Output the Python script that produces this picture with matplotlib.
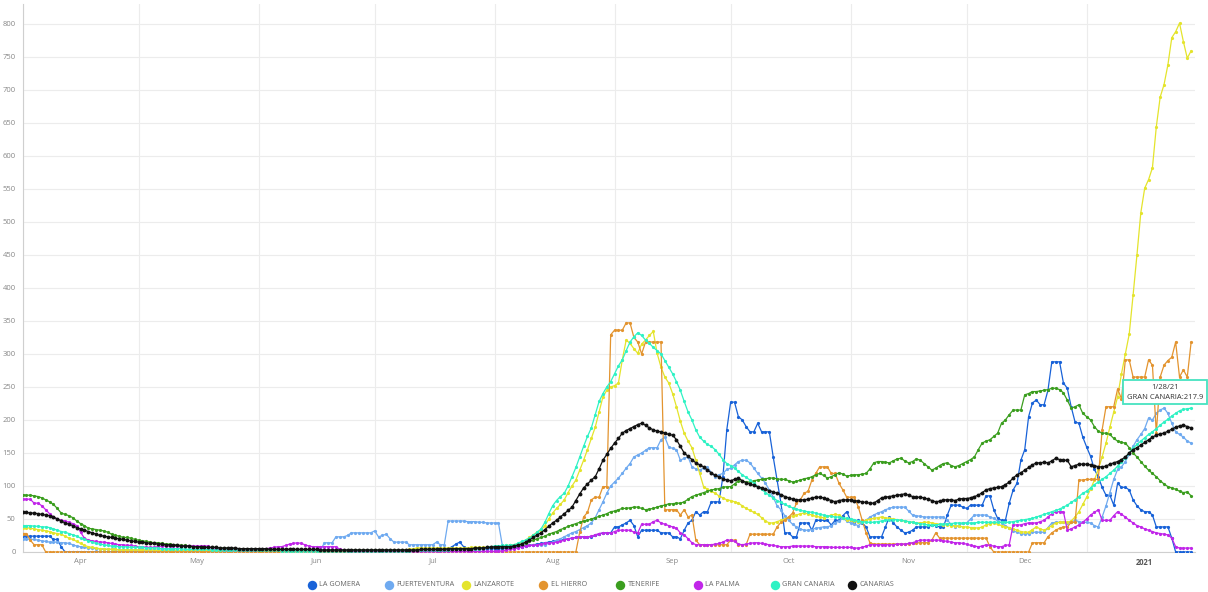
import matplotlib
matplotlib.use("Agg")
import matplotlib.pyplot as plt
import matplotlib.dates as mdates
from matplotlib.lines import Line2D
from matplotlib.ticker import FuncFormatter
import pandas as pd

plt.rcParams['font.family'] = ['Open Sans', 'DejaVu Sans']

dates = pd.date_range("2020-04-01", "2021-01-28", freq="D")

names = ["LA GOMERA", "FUERTEVENTURA", "LANZAROTE", "EL HIERRO",
         "TENERIFE", "LA PALMA", "GRAN CANARIA", "CANARIAS"]
colors = ["#1862d8", "#6faaf0", "#e4e42c", "#e3942f",
          "#3b9e1f", "#c126e9", "#2ef2c4", "#111111"]

la_gomera = [
    24,24,24,24,24,24,24,24,19,19,8,0,0,0,0,0,0,0,0,0,0,0,0,0,0,0,0,0,0,0,
    0,0,0,0,0,0,0,0,0,0,0,0,0,0,0,0,0,0,0,0,0,0,0,0,0,0,0,0,0,0,0,
    0,0,0,0,0,0,0,0,0,0,0,0,0,0,0,0,0,0,0,0,0,0,0,0,0,0,0,0,0,0,
    0,0,0,0,0,0,0,0,0,0,0,0,0,0,0,5,5,5,5,5,8,12,15,8,5,5,5,5,5,5,5,
    5,5,5,6,6,7,8,8,9,10,11,12,13,14,15,16,17,18,19,20,21,22,23,23,23,23,25,27,29,29,29,
    38,38,41,44,48,40,23,33,33,33,33,33,29,29,29,23,23,20,33,44,48,61,56,61,61,76,76,76,114,185,
    227,227,205,200,190,182,182,195,182,182,182,144,109,74,29,29,23,23,44,44,44,33,48,48,48,48,41,48,48,55,61,
    48,44,48,44,38,23,23,23,23,38,53,44,38,33,29,30,33,38,38,38,38,41,40,38,38,56,71,71,71,68,
    66,71,71,71,71,85,85,64,51,48,48,74,94,104,139,155,205,226,230,223,223,245,288,288,288,256,248,220,197,195,174,
    159,145,125,114,98,86,86,71,104,98,98,94,79,70,64,61,61,56,38,38,38,38,21,0,0,0,0,0,
]

fuerteventura = [
    20,20,19,19,18,17,16,15,15,15,14,14,13,11,9,8,7,6,6,5,5,4,4,4,4,3,3,3,3,3,
    3,3,3,3,3,3,3,3,3,3,2,2,2,2,2,2,2,2,2,2,2,2,2,2,2,2,2,2,2,2,2,
    2,2,2,2,2,2,2,2,2,2,2,2,2,2,2,2,2,14,14,14,23,23,23,25,29,29,29,29,29,29,
    32,23,25,27,20,15,15,15,15,11,11,11,11,11,11,11,15,11,11,47,47,47,47,47,46,46,46,45,45,44,44,
    44,44,10,9,9,9,9,9,10,10,10,10,11,11,13,15,18,20,23,26,29,31,34,37,40,44,52,64,76,89,100,
    106,112,119,127,134,144,147,150,154,158,158,158,170,174,159,157,155,139,142,144,129,126,124,127,129,120,114,117,119,125,
    127,132,137,139,139,135,127,119,112,104,94,83,70,64,55,48,42,38,35,33,33,34,36,37,38,38,40,44,47,51,47,
    44,42,40,45,48,53,56,59,61,64,66,68,68,68,68,62,56,55,54,53,53,53,53,53,53,48,42,38,40,44,
    44,50,56,56,56,56,53,51,47,44,40,36,32,30,28,27,28,30,30,30,30,37,44,45,45,45,44,45,48,46,45,
    45,44,40,38,53,70,90,110,125,129,137,148,160,170,178,187,203,200,210,215,218,210,195,182,178,174,168,165,
]

lanzarote = [
    37,37,36,35,34,33,32,31,29,28,27,24,21,19,16,13,10,8,7,6,5,5,4,4,4,3,3,3,3,3,
    3,3,3,3,3,2,2,2,2,2,2,2,2,2,2,2,2,2,2,2,2,2,2,2,2,2,2,2,2,2,2,
    2,2,2,2,2,2,2,2,2,2,2,2,2,2,2,2,2,2,2,2,2,2,2,2,2,2,2,2,2,2,
    2,2,2,2,2,2,2,3,3,4,5,6,6,6,6,6,6,6,6,6,6,6,6,6,6,7,7,7,7,7,8,
    8,8,9,10,10,11,12,15,18,22,26,30,33,40,50,59,66,72,79,90,100,109,124,139,155,172,189,212,235,245,250,
    252,256,291,321,316,308,301,315,321,328,334,301,280,265,256,240,220,198,180,168,158,139,119,99,95,92,89,85,82,79,
    78,76,74,70,66,63,60,57,52,47,44,44,46,48,50,53,55,56,58,59,58,56,54,53,52,54,56,57,56,52,49,
    48,47,46,46,48,50,51,52,53,52,51,50,49,48,47,46,45,44,44,45,45,44,43,42,41,41,40,40,39,38,
    38,37,37,36,38,41,43,44,42,40,38,37,35,33,31,30,30,34,38,35,33,36,40,44,45,45,45,47,53,61,72,
    83,95,109,125,144,165,189,212,235,270,300,330,389,450,514,551,564,582,644,689,708,738,779,788,801,773,748,759,
]

el_hierro = [
    28,28,18,11,11,11,0,0,0,0,0,0,0,0,0,0,0,0,0,0,0,0,0,0,0,0,0,0,0,0,
    0,0,0,0,0,0,0,0,0,0,0,0,0,0,0,0,0,0,0,0,0,0,0,0,0,0,0,0,0,0,0,
    0,0,0,0,0,0,0,0,0,0,0,0,0,0,0,0,0,0,0,0,0,0,0,0,0,0,0,0,0,0,
    0,0,0,0,0,0,0,0,0,0,0,0,0,0,0,0,0,0,0,0,0,0,0,0,0,0,0,0,0,0,0,
    0,0,0,0,0,0,0,0,0,0,0,0,0,0,0,0,0,0,0,0,0,0,30,53,60,79,83,83,99,99,329,
    336,336,336,347,347,325,318,300,318,318,318,318,318,64,64,64,64,56,64,53,56,18,11,11,11,11,11,11,11,11,
    18,18,11,11,11,27,27,27,27,27,27,27,38,45,48,53,59,74,79,89,92,109,119,129,129,129,119,119,104,94,83,
    83,83,68,48,29,14,12,12,12,12,12,12,12,12,12,12,14,14,14,14,14,18,29,21,21,21,21,21,21,21,
    21,21,21,21,21,21,8,0,0,0,0,0,0,0,0,0,0,14,14,14,14,23,29,33,36,38,38,45,45,109,109,
    110,110,110,110,185,220,220,220,247,232,291,291,265,265,265,265,291,283,180,265,283,290,295,318,265,276,265,318,
]

tenerife = [
    87,86,86,85,84,82,79,76,72,66,59,57,55,52,47,43,40,36,35,34,33,32,30,27,25,24,22,22,21,19,
    18,17,16,15,14,14,13,12,12,11,11,10,10,9,9,8,8,8,7,7,7,6,6,6,6,5,5,5,5,5,5,
    5,5,4,4,4,4,4,4,4,4,3,3,3,3,3,3,3,3,3,3,3,3,3,3,3,3,3,3,3,3,
    3,3,3,3,3,3,3,3,3,3,3,3,4,4,4,4,4,4,4,4,4,5,5,5,5,5,6,6,6,7,8,
    8,8,9,9,10,10,11,12,14,16,18,20,22,24,27,29,31,34,36,39,41,43,45,47,48,50,52,54,56,58,61,
    62,64,66,66,67,68,68,66,64,65,66,68,70,71,73,73,74,74,76,80,84,86,88,90,92,94,95,96,98,99,
    99,103,108,107,106,106,108,109,110,111,112,112,111,110,110,108,106,107,109,111,112,114,117,119,116,112,114,117,120,118,115,
    116,117,117,118,119,126,135,137,137,136,135,138,141,142,138,135,137,141,139,134,129,124,127,131,134,135,131,129,131,134,
    137,140,144,155,165,168,170,175,180,195,200,208,215,215,215,238,240,243,243,244,245,246,248,248,246,241,230,218,220,223,210,
    205,200,190,183,180,180,178,172,168,166,165,158,150,144,137,130,124,119,114,108,103,99,97,95,92,90,91,85,
]

la_palma = [
    80,80,80,74,74,70,64,58,53,50,48,47,45,43,40,30,21,18,17,16,15,15,14,13,12,11,11,10,10,9,
    8,8,7,7,7,8,9,9,9,9,9,9,9,9,9,9,9,9,9,5,4,4,3,3,3,3,3,3,3,3,3,
    4,5,5,6,7,8,8,10,12,13,14,13,11,9,8,8,8,8,8,8,8,4,3,2,1,1,1,1,1,1,
    1,1,1,1,1,1,1,1,1,1,1,1,1,1,1,1,1,1,1,1,1,1,1,1,1,1,1,1,1,1,1,
    1,1,2,3,4,5,6,8,9,10,10,11,12,13,14,14,15,16,18,20,21,22,23,23,23,24,26,28,29,29,29,
    31,33,33,33,33,30,29,42,42,42,46,48,44,42,40,38,36,29,26,20,14,11,11,11,11,11,12,13,15,18,
    18,16,12,11,12,13,14,14,13,12,11,10,9,8,8,8,9,9,9,9,9,9,8,8,8,8,7,7,7,7,7,
    7,6,6,7,9,11,11,11,11,11,11,11,12,12,12,13,14,16,18,18,18,18,18,18,17,16,15,14,14,13,
    12,10,9,8,9,11,10,9,8,8,10,11,41,41,41,43,44,44,44,46,48,53,58,61,61,61,33,35,38,41,45,
    50,56,60,64,48,48,48,55,61,57,53,48,44,40,38,35,33,31,29,28,27,26,21,8,6,6,6,6,
]

gran_canaria = [
    40,40,40,39,39,38,38,37,35,33,31,30,28,26,24,21,19,17,15,13,12,11,10,9,9,8,8,8,7,7,
    7,7,6,6,6,6,5,5,5,5,5,5,4,4,4,4,4,4,4,3,3,3,3,3,3,3,3,3,3,3,3,
    3,3,3,3,3,3,2,2,2,2,2,2,2,2,2,2,2,2,2,2,2,2,2,2,2,2,2,2,2,2,
    2,2,2,2,2,2,2,2,2,2,3,3,3,3,3,3,3,3,3,3,4,4,4,4,4,4,5,5,6,7,8,
    9,9,10,10,10,11,13,16,18,21,25,30,35,45,58,70,78,84,89,100,114,128,144,160,175,188,208,228,240,250,258,
    270,282,291,305,318,326,332,328,321,316,310,305,300,290,280,270,258,245,228,212,200,185,174,168,163,160,155,148,140,134,
    131,127,122,117,113,109,104,99,95,90,86,82,78,75,72,69,67,65,63,62,61,60,59,57,56,55,54,53,53,52,51,
    50,49,47,46,45,45,45,46,47,48,48,49,49,48,47,46,45,44,43,42,41,41,41,42,42,43,43,44,44,44,
    44,44,44,45,45,45,45,45,45,45,45,45,46,47,48,49,50,51,53,55,57,59,61,63,65,68,71,75,79,84,89,
    92,97,102,106,110,114,119,124,130,136,142,150,157,163,168,173,178,182,187,192,197,201,206,210,214,216,217,217.9,
]

canarias = [
    60,60,59,59,58,57,56,55,53,50,47,44,42,40,37,35,33,31,29,27,25,24,23,22,21,20,19,18,17,16,
    15,15,14,13,13,12,12,11,11,10,10,9,9,9,8,8,8,7,7,7,7,6,6,6,6,6,5,5,5,5,5,
    5,5,5,4,4,4,4,4,4,4,4,4,4,4,4,4,3,3,3,3,3,3,3,3,3,3,3,3,3,3,
    3,3,3,3,3,3,3,3,3,3,3,3,4,4,4,4,4,4,4,5,5,5,5,5,5,5,6,6,6,7,7,
    8,8,8,8,8,9,10,12,15,18,22,26,29,34,39,44,48,53,58,63,68,78,88,97,103,109,114,126,139,148,157,
    165,172,180,184,187,190,193,195,192,188,185,183,182,180,178,177,170,160,150,145,140,135,132,129,124,120,116,114,111,109,
    108,110,112,108,105,103,101,99,97,95,93,91,89,87,84,82,80,79,79,79,80,82,83,83,82,80,78,76,78,79,79,
    79,78,77,76,75,74,74,78,82,83,84,85,86,87,88,86,84,83,83,82,80,78,76,77,79,79,79,78,80,81,
    81,82,84,86,90,94,96,97,98,99,102,106,112,117,120,124,128,132,135,135,136,135,138,142,140,139,139,129,131,133,133,
    133,132,131,129,129,130,133,135,137,140,144,150,155,158,162,166,170,174,177,179,180,183,186,189,191,192,190,188,
]

series = [la_gomera, fuerteventura, lanzarote, el_hierro,
          tenerife, la_palma, gran_canaria, canarias]
lens = [len(s) for s in series]
assert all(n == len(dates) for n in lens), (len(dates), lens)

W, H = 1208, 592
fig = plt.figure(figsize=(W / 100, H / 100), dpi=100)
ax = fig.add_axes([22.5 / W, 1 - 552 / H, (1195 - 22.5) / W, (552 - 4) / H])

for name, col, vals in zip(names, colors, series):
    ms = 2.8 if name == "CANARIAS" else 2.3
    ax.plot(dates, vals, color=col, lw=0.9, marker='o', ms=ms, mew=0,
            label=name, zorder=3)

ax.set_xlim(dates[0], dates[0] + pd.Timedelta(days=303))
ax.set_ylim(0, 830)
ax.set_yticks(range(0, 801, 50))
ax.tick_params(axis='y', length=0, pad=5, labelsize=5.5, labelcolor='#888888')

ax.xaxis.set_major_locator(mdates.MonthLocator())
ax.xaxis.set_major_formatter(FuncFormatter(lambda v, p: ""))
ax.xaxis.set_minor_locator(mdates.MonthLocator(bymonthday=16))


def mfmt(v, p):
    d = mdates.num2date(v)
    return str(d.year) if d.month == 1 else d.strftime("%b")


ax.xaxis.set_minor_formatter(FuncFormatter(mfmt))
ax.tick_params(axis='x', which='major', length=0)
ax.tick_params(axis='x', which='minor', length=0, pad=4, labelsize=5.5,
               labelcolor='#888888')

ax.grid(True, which='major', color='#ececec', lw=0.8, zorder=0)
for s in ['top', 'right']:
    ax.spines[s].set_visible(False)
for s in ['left', 'bottom']:
    ax.spines[s].set_color('#cfcfcf')
    ax.spines[s].set_linewidth(0.8)

# tooltip
ax.annotate("1/28/21\nGRAN CANARIA:217.9", xy=(dates[-1], gran_canaria[-1]),
            xytext=(-26, 16), textcoords='offset pixels', ha='center',
            va='center', fontsize=5.5, color='#333333', linespacing=1.6,
            bbox=dict(boxstyle='square,pad=0.5', fc='white', ec='#47e3c0',
                      lw=1.3), zorder=10)

# legend: evenly spaced items along the bottom
leg_x0, leg_dx, leg_y = 311.5, 77.2, 584.7
for i, (name, col) in enumerate(zip(names, colors)):
    cx = leg_x0 + i * leg_dx
    fig.add_artist(Line2D([cx / W], [1 - leg_y / H], transform=fig.transFigure,
                          marker='o', ls='none', color=col, ms=6.8, mew=0))
    fig.text((cx + 7.5) / W, 1 - leg_y / H, name, ha='left', va='center',
             fontsize=5.2, color='#666666')

fig.canvas.draw()
for lbl in ax.xaxis.get_minorticklabels():
    if lbl.get_text() == "2021":
        lbl.set_fontweight('bold')
        lbl.set_color('#555555')

fig.savefig("out.png", dpi=100)
